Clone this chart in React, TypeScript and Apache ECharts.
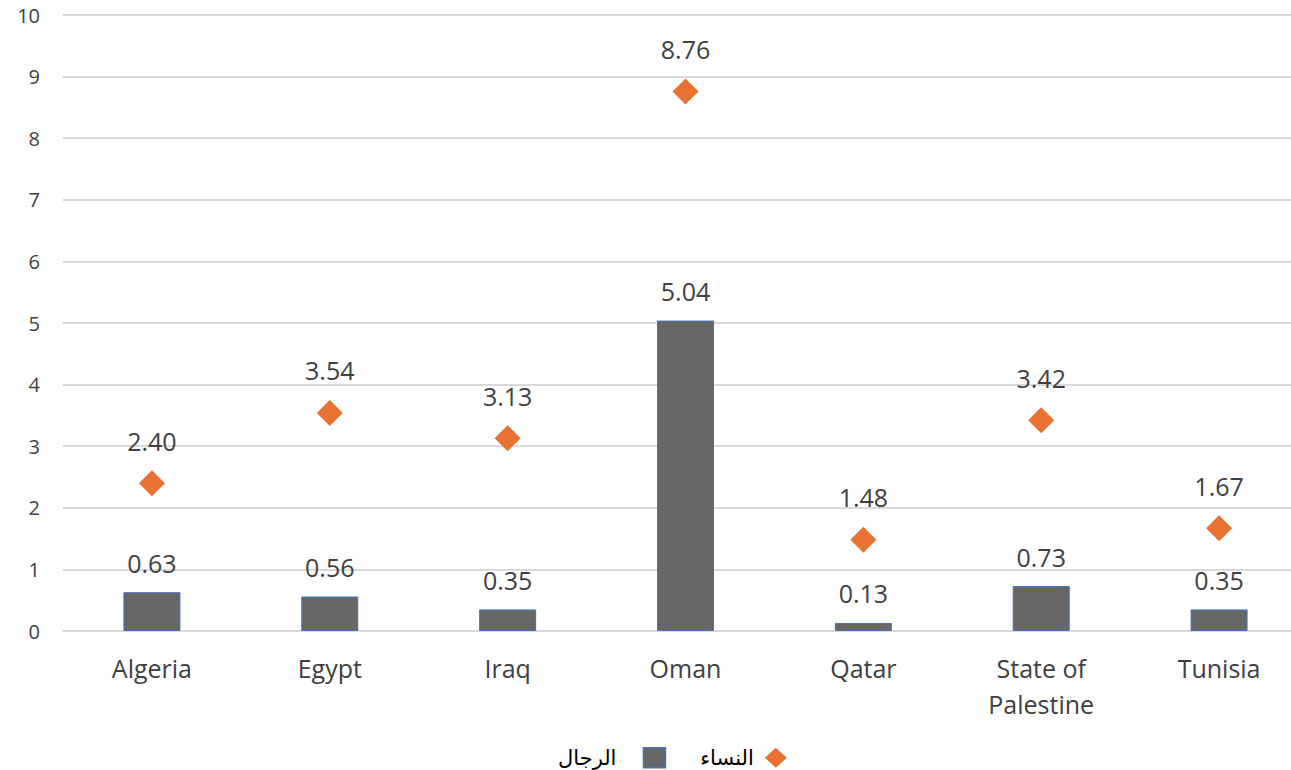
import React, { useEffect, useRef } from "react";
import * as echarts from "echarts";

const categories = ["Algeria", "Egypt", "Iraq", "Oman", "Qatar", "State of\nPalestine", "Tunisia"];
const menValues = [0.63, 0.56, 0.35, 5.04, 0.13, 0.73, 0.35];
const womenValues = [2.4, 3.54, 3.13, 8.76, 1.48, 3.42, 1.67];
const menName = "الرجال";
const womenName = "النساء";

const FONT = "'Open Sans', 'DejaVu Sans', sans-serif";
const TEXT = "#404040";

export default function App() {
  const ref = useRef<HTMLDivElement>(null);
  useEffect(() => {
    if (!ref.current) return;
    const chart = echarts.init(ref.current, undefined, { renderer: "svg" });
    chart.setOption({
      animation: false,
      backgroundColor: "#ffffff",
      grid: { left: 63, top: 15, right: -17, height: 616, containLabel: false, outerBoundsMode: "none" },
      legend: {
        top: 742,
        left: 553,
        align: "right",
        itemGap: 34,
        itemWidth: 22,
        itemHeight: 20,
        data: [
          {
            name: menName,
            icon: "rect",
            itemStyle: { color: "#666666", borderColor: "#4472C4", borderWidth: 1.5 },
            textStyle: { padding: [0, 22, 0, 0] },
          },
          {
            name: womenName,
            icon: "diamond",
            itemStyle: { color: "#E97132", opacity: 1 },
            textStyle: { padding: [0, 6, 0, 0] },
          },
        ],
        textStyle: { fontFamily: "'DejaVu Sans', sans-serif", fontSize: 21, color: "#000000" },
      },
      xAxis: {
        type: "category",
        data: categories,
        axisLine: { show: true, lineStyle: { color: "#D9D9D9", width: 2 } },
        axisTick: { show: false },
        axisLabel: {
          fontFamily: FONT,
          fontSize: 25,
          color: TEXT,
          margin: 19,
          lineHeight: 36,
          interval: 0,
        },
      },
      yAxis: {
        type: "value",
        min: 0,
        max: 10,
        interval: 1,
        axisLine: { show: false },
        axisTick: { show: false },
        splitLine: { lineStyle: { color: "#D9D9D9", width: 2 } },
        axisLabel: { fontFamily: FONT, fontSize: 20, color: TEXT, margin: 23 },
      },
      series: [
        {
          name: menName,
          type: "bar",
          data: menValues,
          barWidth: 57,
          itemStyle: { color: "#666666", borderColor: "#4472C4", borderWidth: 1 },
          label: {
            show: true,
            position: "top",
            distance: 17,
            fontFamily: FONT,
            fontSize: 25,
            color: TEXT,
            formatter: (p: any) => Number(p.value).toFixed(2),
          },
        },
        {
          name: womenName,
          type: "scatter",
          data: womenValues,
          symbol: "diamond",
          symbolSize: 26,
          itemStyle: { color: "#E97132", opacity: 1 },
          z: 5,
          label: {
            show: true,
            position: "top",
            distance: 17,
            fontFamily: FONT,
            fontSize: 25,
            color: TEXT,
            opacity: 1,
            formatter: (p: any) => Number(p.value).toFixed(2),
          },
        },
      ],
    });
    return () => chart.dispose();
  }, []);
  return (
    <div
      ref={ref}
      style={{ position: "fixed", left: 0, top: 0, width: 1291, height: 770, background: "#fff" }}
    />
  );
}
